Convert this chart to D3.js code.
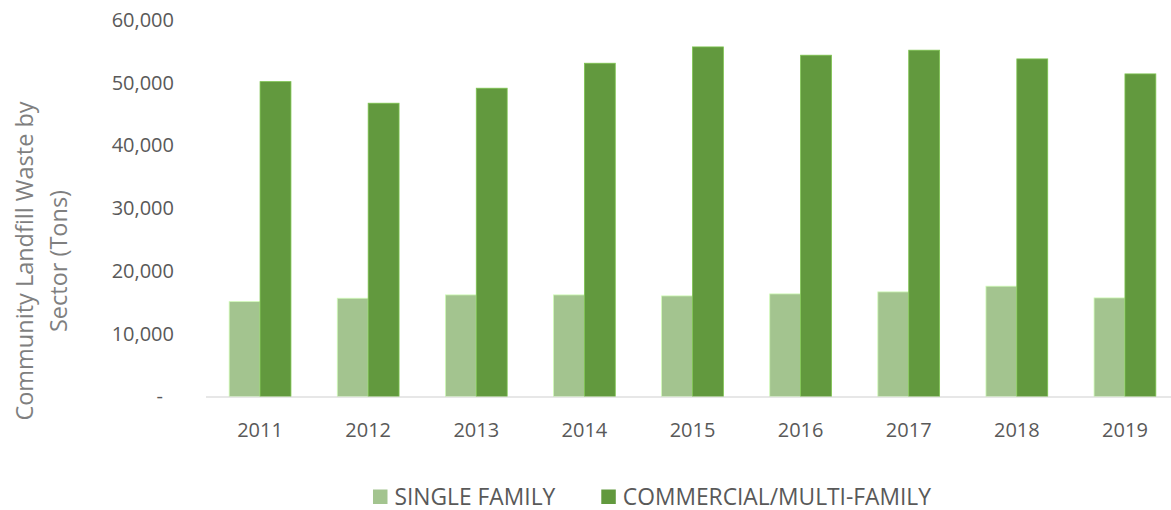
<!DOCTYPE html>
<html>
<head>
<meta charset="utf-8">
<script src="https://cdn.jsdelivr.net/npm/d3@7"></script>
<style>
  html, body { margin: 0; padding: 0; background: #fff; }
  svg { display: block; font-family: "Open Sans", "Noto Sans", sans-serif; }
</style>
</head>
<body>
<svg id="chart" width="1171" height="510"></svg>
<script>
// Community landfill waste by sector, tons per year
const years = ["2011", "2012", "2013", "2014", "2015", "2016", "2017", "2018", "2019"];
const seriesNames = ["SINGLE FAMILY", "COMMERCIAL/MULTI-FAMILY"];
const singleFamily = [15120, 15660, 16190, 16190, 16030, 16350, 16670, 17580, 15710];
const commercialMulti = [50180, 46740, 49130, 53110, 55710, 54390, 55190, 53800, 51410];
const seriesColors = ["#a3c48f", "#62993e"];
const yTicks = [0, 10000, 20000, 30000, 40000, 50000, 60000];
const axisTitleLines = ["Community Landfill Waste by", "Sector (Tons)"];

const seriesValues = [singleFamily, commercialMulti];
const rows = years.map((yr, i) => ({
  year: yr,
  values: seriesNames.map((s, k) => ({ series: s, k, value: seriesValues[k][i] }))
}));

const svg = d3.select("#chart");
const W = 1171, H = 510;
const plot = { left: 206, right: 1179, top: 20, bottom: 396.5 };

const y = d3.scaleLinear().domain([0, 60000]).range([plot.bottom, plot.top]);
const x0 = d3.scaleBand().domain(years).range([plot.left, plot.right]).padding(0);
// gap between groups is 1.5 bar widths
const barW = x0.bandwidth() / 3.5;
const groupW = barW * seriesNames.length;
const x1 = d3.scaleBand().domain(seriesNames).range([0, groupW]).padding(0);

// Bars
const groups = svg.append("g").selectAll("g")
  .data(rows).join("g")
  .attr("transform", d => `translate(${x0(d.year) + (x0.bandwidth() - groupW) / 2},0)`);

groups.selectAll("rect")
  .data(d => d.values).join("rect")
  .attr("x", d => x1(d.series))
  .attr("y", d => y(d.value))
  .attr("width", x1.bandwidth())
  .attr("height", d => y(0) - y(d.value))
  .attr("fill", d => seriesColors[d.k])
  .attr("stroke", d => d3.color(seriesColors[d.k]).brighter(0.7))
  .attr("stroke-width", 0.8);

// Category axis line
svg.append("line")
  .attr("x1", plot.left).attr("x2", W)
  .attr("y1", plot.bottom + 0.5).attr("y2", plot.bottom + 0.5)
  .attr("stroke", "#cfcfcf").attr("stroke-width", 1.2);

// Value axis labels (no line, no ticks)
const yAxis = d3.axisLeft(y)
  .tickValues(yTicks)
  .tickSize(0)
  .tickPadding(0)
  .tickFormat(d => d === 0 ? "-" : d3.format(",")(d));

const yg = svg.append("g")
  .attr("transform", `translate(174,0)`)
  .call(yAxis);
yg.select(".domain").remove();
yg.selectAll("text")
  .attr("font-size", 20)
  .attr("fill", "#595959")
  .attr("font-family", "'Open Sans', sans-serif")
  .attr("dx", d => d === 0 ? -11 : 0);

// Category axis labels
const xAxis = d3.axisBottom(x0).tickSize(0).tickPadding(0);
const xg = svg.append("g")
  .attr("transform", `translate(0,${plot.bottom})`)
  .call(xAxis);
xg.select(".domain").remove();
xg.selectAll("text")
  .attr("font-size", 20)
  .attr("fill", "#595959")
  .attr("font-family", "'Open Sans', sans-serif")
  .attr("y", 0)
  .attr("dy", 0)
  .attr("transform", "translate(0,40.5)");

// Value axis title, two lines rotated
const titleCenterY = 261;
const titleBaselines = [33, 67];
svg.append("g").selectAll("text")
  .data(axisTitleLines).join("text")
  .attr("transform", (d, i) => `translate(${titleBaselines[i]},${titleCenterY}) rotate(-90)`)
  .attr("text-anchor", "middle")
  .attr("font-size", 23.5)
  .attr("fill", "#7f7f7f")
  .text(d => d);

// Legend
const legend = svg.append("g");
const sw = 14.5, swGap = 7, itemGap = 46;
const items = legend.selectAll("g").data(seriesNames).join("g");
items.append("rect")
  .attr("width", sw).attr("height", sw)
  .attr("y", 489.5)
  .attr("fill", (d, i) => seriesColors[i]);
items.append("text")
  .attr("x", sw + swGap)
  .attr("y", 504.5)
  .attr("font-size", 22.8)
  .attr("fill", "#595959")
  .text(d => d);

const widths = [];
items.each(function () {
  const tw = d3.select(this).select("text").node().getComputedTextLength();
  widths.push(sw + swGap + tw);
});
const total = d3.sum(widths) + itemGap * (widths.length - 1);
let start = 652 - total / 2;
items.attr("transform", (d, i) => {
  const tx = start;
  start += widths[i] + itemGap;
  return `translate(${tx},0)`;
});
</script>
</body>
</html>
